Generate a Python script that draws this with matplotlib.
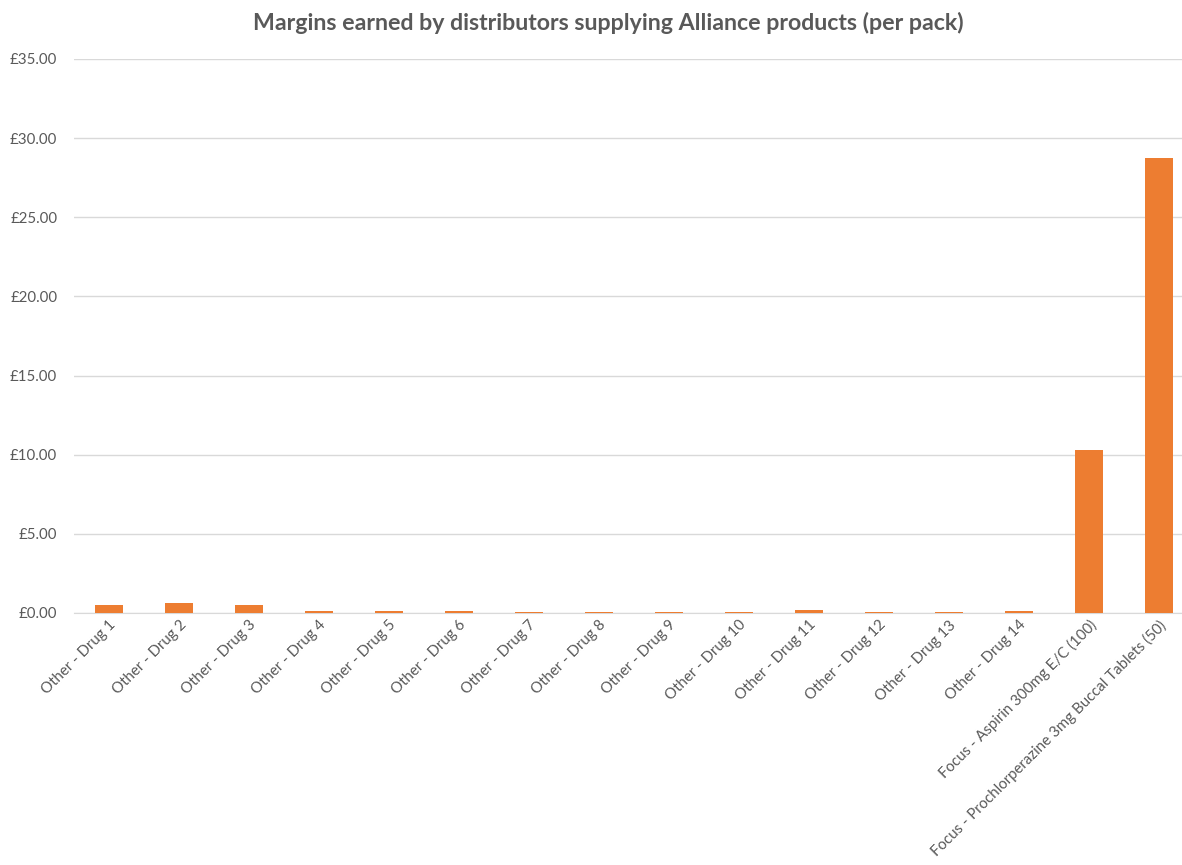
import numpy as np
import matplotlib.pyplot as plt
from matplotlib.ticker import FuncFormatter

plt.rcParams['font.family'] = ['Lato', 'DejaVu Sans']

categories = ['Other - Drug %d' % i for i in range(1, 15)] + [
    'Focus - Aspirin 300mg E/C (100)',
    'Focus - Prochlorperazine 3mg Buccal Tablets (50)',
]
margins = [0.48, 0.61, 0.48, 0.15, 0.15, 0.15, 0.08, 0.08, 0.08, 0.08,
           0.21, 0.08, 0.08, 0.15, 10.30, 28.74]

text_col = '#595959'

fig = plt.figure(figsize=(11.82, 8.65), dpi=100)
ax = fig.add_axes([74 / 1182, 252 / 865, 1108 / 1182, 554 / 865])

x = np.arange(len(categories))
ax.bar(x, margins, width=0.4, color='#ED7D31', zorder=3)

ax.set_ylim(0, 35)
ax.set_xlim(-0.5, 15.33)
ax.set_yticks(np.arange(0, 36, 5))
ax.yaxis.set_major_formatter(FuncFormatter(lambda v, p: '£%.2f' % v))
ax.grid(axis='y', color='#D9D9D9', linewidth=1, zorder=0)
for s in ['top', 'right', 'left']:
    ax.spines[s].set_visible(False)
ax.spines['bottom'].set_color('#D9D9D9')
ax.tick_params(axis='both', length=0, colors=text_col, labelsize=10.8)
ax.tick_params(axis='y', pad=12)

ax.set_xticks(x)
ax.set_xticklabels(categories, rotation=45, ha='right', rotation_mode='anchor')

fig.text(0.515, 0.973, 'Margins earned by distributors supplying Alliance products (per pack)',
         ha='center', va='center', fontsize=16.7, fontweight='bold', color=text_col)

fig.savefig('out.png', dpi=100)
